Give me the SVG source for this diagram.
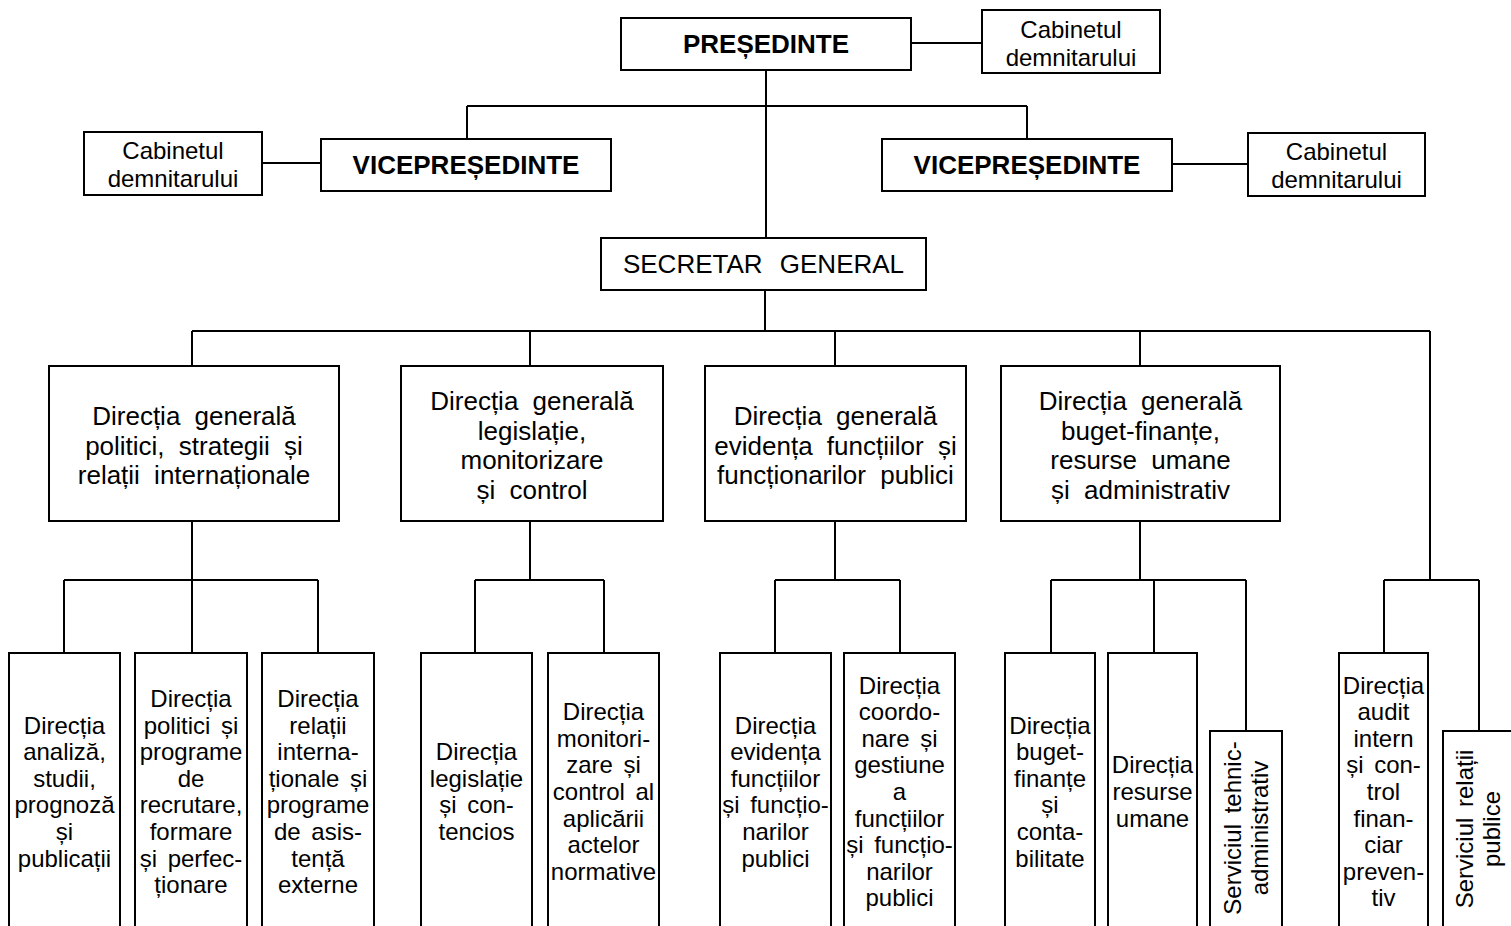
<svg xmlns="http://www.w3.org/2000/svg" width="1511" height="926" viewBox="0 0 1511 926">
<style>
.box{fill:#fff;stroke:#000;stroke-width:2}
.ln{stroke:#000;stroke-width:2;fill:none}
text{font-family:"Liberation Sans",Arial,Helvetica,sans-serif;fill:#000;text-anchor:middle}
.t24{font-size:24px;word-spacing:4px}
.t26{font-size:26px;word-spacing:7px}
.sg{font-size:26px;word-spacing:10px}
.bold{font-size:26px;font-weight:bold}
</style>
<rect width="1511" height="926" fill="#fff"/>
<g id="connectors" class="ln">
<path d="M766 70V238M911 43H982M467 106H1027M467 106V139M1027 106V139M262 163H321M1172 164H1248M765 290V331"/>
<path d="M192 331H1430M192 331V366M530 331V366M835 331V366M1140 331V366M1430 331V580"/>
<path d="M192 521V580M530 521V580M835 521V580M1140 521V580"/>
<path d="M64 580H318M64 580V653M192 580V653M318 580V653"/>
<path d="M475 580H604M475 580V653M604 580V653"/>
<path d="M775 580H900M775 580V653M900 580V653"/>
<path d="M1051 580H1246M1051 580V653M1154 580V653M1246 580V731"/>
<path d="M1384 580H1479M1384 580V653M1479 580V731"/>
</g>
<g id="presedinte"><rect class="box" x="621" y="18" width="290" height="52"/><text class="bold" x="766" y="53">PREȘEDINTE</text></g>
<g id="cabinet-pres"><rect class="box" x="982" y="10" width="178" height="63"/><text class="t24" x="1071" y="37.5">Cabinetul</text><text class="t24" x="1071" y="65.5">demnitarului</text></g>
<g id="vp-left"><rect class="box" x="321" y="139" width="290" height="52"/><text class="bold" x="466" y="174">VICEPREȘEDINTE</text></g>
<g id="cabinet-left"><rect class="box" x="84" y="132" width="178" height="63"/><text class="t24" x="173" y="159">Cabinetul</text><text class="t24" x="173" y="187">demnitarului</text></g>
<g id="vp-right"><rect class="box" x="882" y="139" width="290" height="52"/><text class="bold" x="1027" y="174">VICEPREȘEDINTE</text></g>
<g id="cabinet-right"><rect class="box" x="1248" y="133" width="177" height="63"/><text class="t24" x="1336.5" y="160">Cabinetul</text><text class="t24" x="1336.5" y="188">demnitarului</text></g>
<g id="secretar"><rect class="box" x="601" y="238" width="325" height="52"/><text class="sg" x="763.5" y="273">SECRETAR GENERAL</text></g>

<g id="dg1"><rect class="box" x="49" y="366" width="290" height="155"/>
<text class="t26" x="194" y="425">Direcția generală</text><text class="t26" x="194" y="454.5">politici, strategii și</text><text class="t26" x="194" y="484">relații internaționale</text></g>
<g id="dg2"><rect class="box" x="401" y="366" width="262" height="155"/>
<text class="t26" x="532" y="410">Direcția generală</text><text class="t26" x="532" y="439.5">legislație,</text><text class="t26" x="532" y="469">monitorizare</text><text class="t26" x="532" y="498.5">și control</text></g>
<g id="dg3"><rect class="box" x="705" y="366" width="261" height="155"/>
<text class="t26" x="835.5" y="425">Direcția generală</text><text class="t26" x="835.5" y="454.5">evidența funcțiilor și</text><text class="t26" x="835.5" y="484">funcționarilor publici</text></g>
<g id="dg4"><rect class="box" x="1001" y="366" width="279" height="155"/>
<text class="t26" x="1140.5" y="410">Direcția generală</text><text class="t26" x="1140.5" y="439.5">buget-finanțe,</text><text class="t26" x="1140.5" y="469">resurse umane</text><text class="t26" x="1140.5" y="498.5">și administrativ</text></g>

<g id="d1"><rect class="box" x="9" y="653" width="111" height="300"/>
<text class="t24" x="64.5"><tspan x="64.5" y="733.5">Direcția</tspan><tspan x="64.5" y="760.1">analiză,</tspan><tspan x="64.5" y="786.7">studii,</tspan><tspan x="64.5" y="813.3">prognoză</tspan><tspan x="64.5" y="839.9">și</tspan><tspan x="64.5" y="866.5">publicații</tspan></text></g>
<g id="d2"><rect class="box" x="135" y="653" width="112" height="300"/>
<text class="t24"><tspan x="191" y="706.9">Direcția</tspan><tspan x="191" y="733.5">politici și</tspan><tspan x="191" y="760.1">programe</tspan><tspan x="191" y="786.7">de</tspan><tspan x="191" y="813.3">recrutare,</tspan><tspan x="191" y="839.9">formare</tspan><tspan x="191" y="866.5">și perfec-</tspan><tspan x="191" y="893.1">ționare</tspan></text></g>
<g id="d3"><rect class="box" x="262" y="653" width="112" height="300"/>
<text class="t24"><tspan x="318" y="706.9">Direcția</tspan><tspan x="318" y="733.5">relații</tspan><tspan x="318" y="760.1">interna-</tspan><tspan x="318" y="786.7">ționale și</tspan><tspan x="318" y="813.3">programe</tspan><tspan x="318" y="839.9">de asis-</tspan><tspan x="318" y="866.5">tență</tspan><tspan x="318" y="893.1">externe</tspan></text></g>
<g id="d4"><rect class="box" x="421" y="653" width="111" height="300"/>
<text class="t24"><tspan x="476.5" y="760.1">Direcția</tspan><tspan x="476.5" y="786.7">legislație</tspan><tspan x="476.5" y="813.3">și con-</tspan><tspan x="476.5" y="839.9">tencios</tspan></text></g>
<g id="d5"><rect class="box" x="548" y="653" width="111" height="300"/>
<text class="t24"><tspan x="603.5" y="720.2">Direcția</tspan><tspan x="603.5" y="746.8">monitori-</tspan><tspan x="603.5" y="773.4">zare și</tspan><tspan x="603.5" y="800">control al</tspan><tspan x="603.5" y="826.6">aplicării</tspan><tspan x="603.5" y="853.2">actelor</tspan><tspan x="603.5" y="879.8">normative</tspan></text></g>
<g id="d6"><rect class="box" x="720" y="653" width="111" height="300"/>
<text class="t24"><tspan x="775.5" y="733.5">Direcția</tspan><tspan x="775.5" y="760.1">evidența</tspan><tspan x="775.5" y="786.7">funcțiilor</tspan><tspan x="775.5" y="813.3">și funcțio-</tspan><tspan x="775.5" y="839.9">narilor</tspan><tspan x="775.5" y="866.5">publici</tspan></text></g>
<g id="d7"><rect class="box" x="844" y="653" width="111" height="300"/>
<text class="t24"><tspan x="899.5" y="693.6">Direcția</tspan><tspan x="899.5" y="720.2">coordo-</tspan><tspan x="899.5" y="746.8">nare și</tspan><tspan x="899.5" y="773.4">gestiune</tspan><tspan x="899.5" y="800">a</tspan><tspan x="899.5" y="826.6">funcțiilor</tspan><tspan x="899.5" y="853.2">și funcțio-</tspan><tspan x="899.5" y="879.8">narilor</tspan><tspan x="899.5" y="906.4">publici</tspan></text></g>
<g id="d8"><rect class="box" x="1005" y="653" width="90" height="300"/>
<text class="t24"><tspan x="1050" y="733.5">Direcția</tspan><tspan x="1050" y="760.1">buget-</tspan><tspan x="1050" y="786.7">finanțe</tspan><tspan x="1050" y="813.3">și</tspan><tspan x="1050" y="839.9">conta-</tspan><tspan x="1050" y="866.5">bilitate</tspan></text></g>
<g id="d9"><rect class="box" x="1108" y="653" width="89" height="300"/>
<text class="t24"><tspan x="1152.5" y="773.4">Direcția</tspan><tspan x="1152.5" y="800">resurse</tspan><tspan x="1152.5" y="826.6">umane</tspan></text></g>
<g id="d10"><rect class="box" x="1210" y="731" width="72" height="260"/>
<text class="t24" transform="translate(1241 828) rotate(-90)"><tspan x="0" y="0">Serviciul tehnic-</tspan><tspan x="0" y="26.6">administrativ</tspan></text></g>
<g id="d11"><rect class="box" x="1339" y="653" width="89" height="300"/>
<text class="t24"><tspan x="1383.5" y="693.6">Direcția</tspan><tspan x="1383.5" y="720.2">audit</tspan><tspan x="1383.5" y="746.8">intern</tspan><tspan x="1383.5" y="773.4">și con-</tspan><tspan x="1383.5" y="800">trol</tspan><tspan x="1383.5" y="826.6">finan-</tspan><tspan x="1383.5" y="853.2">ciar</tspan><tspan x="1383.5" y="879.8">preven-</tspan><tspan x="1383.5" y="906.4">tiv</tspan></text></g>
<g id="d12"><rect class="box" x="1443" y="731" width="90" height="260"/>
<text class="t24" transform="translate(1473 829) rotate(-90)"><tspan x="0" y="0">Serviciul relații</tspan><tspan x="0" y="26.6">publice</tspan></text></g>
</svg>
